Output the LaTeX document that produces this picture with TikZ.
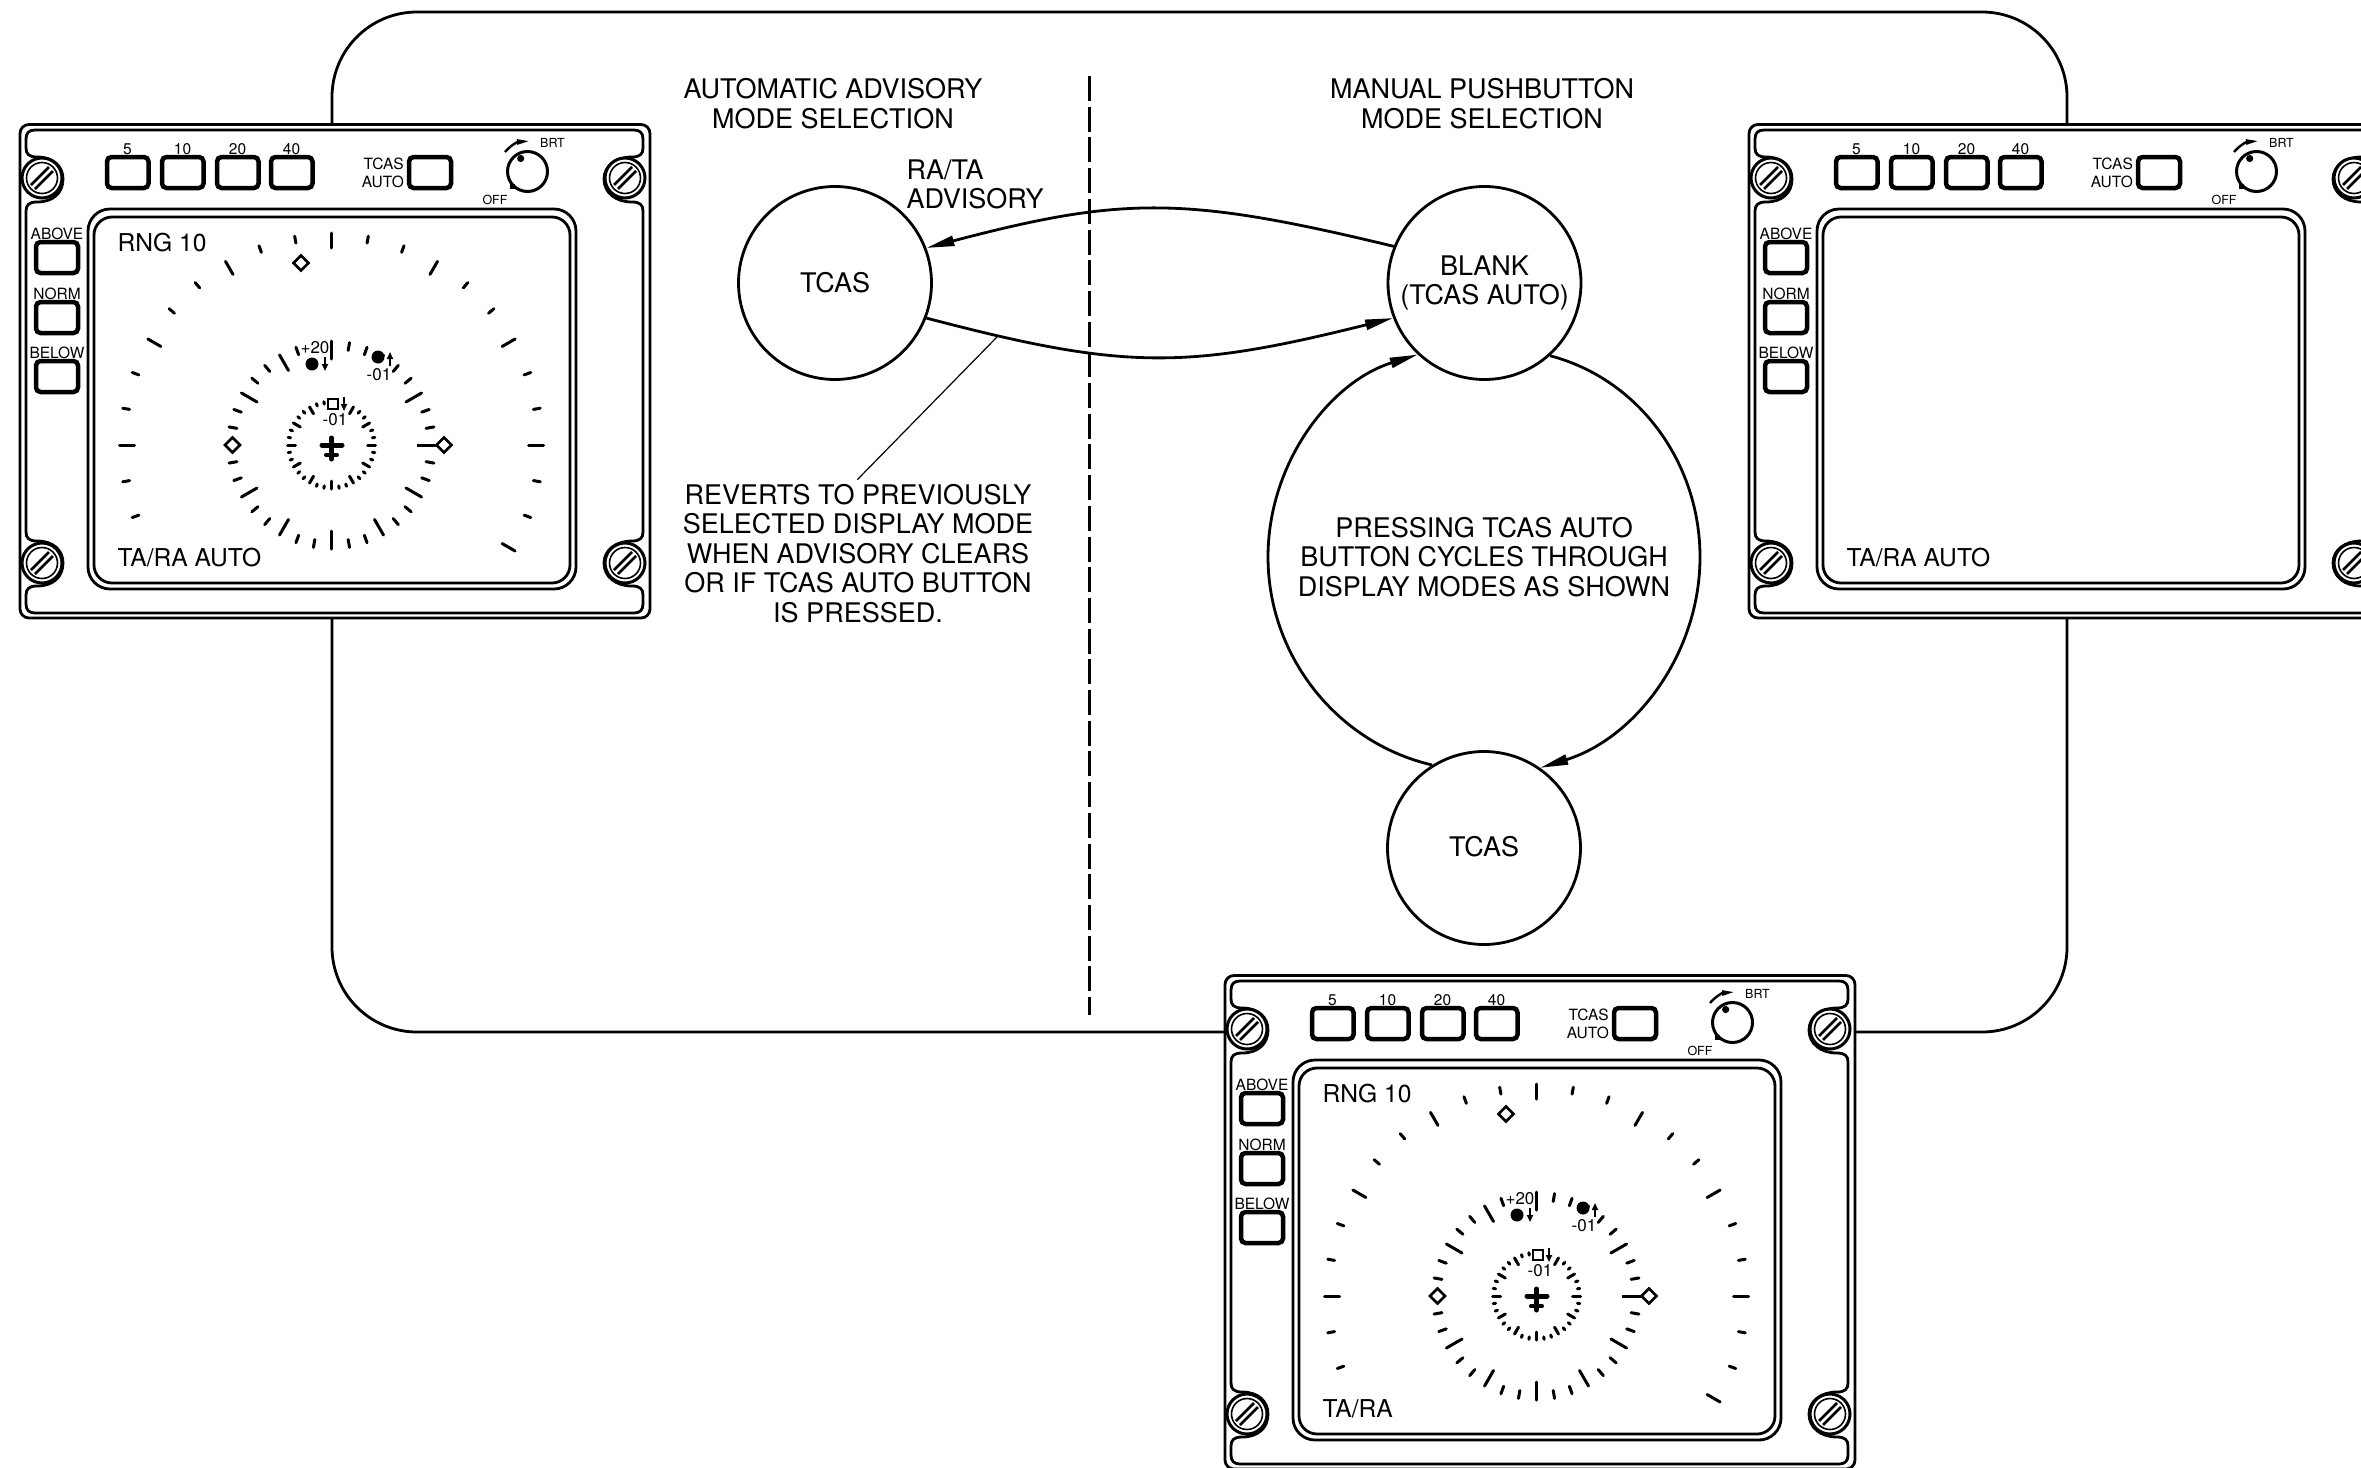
\documentclass[tikz,border=0pt]{standalone}
\usepackage{fontspec}
\setmainfont{TeX Gyre Heros}
\usetikzlibrary{arrows.meta,shapes.geometric}
\newcommand\fbig{\fontsize{27}{29.5}\selectfont}
\newcommand\fscr{\fontsize{24.6}{25}\selectfont}
\newcommand\flab{\fontsize{15.5}{15.5}\selectfont}
\newcommand\fdial{\fontsize{17}{17}\selectfont}
\newcommand\ftiny{\fontsize{12.5}{12.5}\selectfont}
\tikzset{
  x=1pt,y=-1pt,
  ln/.style={line width=2.8pt,line join=round},
  thin ln/.style={line width=1.2pt},
  arr/.style={ln,-{Triangle[length=28pt,width=10pt]}},
  statenode/.style={circle,draw,line width=2.8pt,minimum size=193pt,inner sep=0pt,fill=white,align=center,font=\fbig},
  caption/.style={align=center,inner sep=0pt,font=\fbig},
  scr/.style={anchor=west,inner sep=0pt,font=\fscr},
  lab/.style={inner sep=0pt,font=\flab},
  dial lab/.style={inner sep=0pt,font=\fdial},
  tiny lab/.style={inner sep=0pt,font=\ftiny},
  btn/.style={line width=4.5pt,rounded corners=4.5pt,fill=white},
  tick/.style={line width=3pt,line cap=round},
  dia/.style={line width=2.7pt,line join=miter},
}
\newcommand\tk[3]{\draw[tick] ({331.5+#2*sin(#1)},{445-#2*cos(#1)}) -- ({331.5+#3*sin(#1)},{445-#3*cos(#1)});}
\newcommand\dmnd[2]{\draw[dia,fill=white] (#1-7.5,#2) -- (#1,#2-7.5) -- (#1+7.5,#2) -- (#1,#2+7.5) -- cycle;}
\newcommand\screw[2]{%
  \begin{scope}[shift={(#1,#2)}]
    \fill[white] (0,0) circle[radius=20];
    \draw[line width=3pt] (0,0) circle[radius=20];
    \draw[line width=1.6pt] (0,0) circle[radius=15.5];
    \draw[line width=2.6pt] (-11,7) -- (7,-11);
    \draw[line width=2.6pt] (-7,11) -- (11,-7);
  \end{scope}}
\newcommand\dial[1]{%
  \node[scr] (#1rng) at (117.5,243) {RNG 10};
  \foreach \a in {0,30,...,120,270,300,330} {\tk{\a}{197}{212}}
  \foreach \a in {10,20,40,50,70,80,100,110,250,260,280,290,310,320,340,350} {\tk{\a}{205}{212}}
  \foreach \a in {0,60,120,150,180,210,240,300,330} {\tk{\a}{86}{104}}
  \foreach \a in {10,20,30,40,50,70,80,100,110,130,140,160,170,190,200,220,230,250,260,280,290,310,320,340} {\tk{\a}{96}{104}}
  \foreach \a in {30,60,...,330} {\tk{\a}{36}{44}}
  \foreach \a in {40,50,70,80,100,110,130,140,160,170,190,200,220,230,250,260,280,290,310,320,340,350} {\tk{\a}{41.5}{44}}
  \draw[line width=3pt] (417,445) -- (437,445);
  \dmnd{301}{263}\dmnd{232.5}{445}\dmnd{444}{445}
  \draw[line width=5pt,line cap=round] (331.5,438) -- (331.5,459);
  \draw[line width=5pt,line cap=round] (322,445) -- (342,445);
  \draw[line width=4pt,line cap=round] (326,455) -- (337,455);
  \fill (312,364) circle[radius=6.5];
  \fill (378,357) circle[radius=6.5];
  \draw[line width=1.6pt,-{Triangle[length=7pt,width=6pt]}] (325,357) -- (325,371);
  \draw[line width=1.6pt,-{Triangle[length=7pt,width=6pt]}] (390,366) -- (390,352);
  \draw[line width=1.6pt,-{Triangle[length=7pt,width=6pt]}] (344,397) -- (344,411);
  \draw[line width=2.6pt,fill=white] (328,399) rectangle (338,409);
  \node[dial lab] (#1pa) at (315,348) {+20};
  \node[dial lab] (#1pb) at (379,375) {-01};
  \node[dial lab] (#1pc) at (335,420) {-01};
}
\newcommand\cduPanel[5]{%
  \begin{scope}[shift={(#2,#3)}]
    \draw[ln,fill=white,rounded corners=9pt] (20,124.5) rectangle (650,618);
    \draw[ln] (35,130) -- (634,130) .. controls (640,130) and (643,133) .. (643,139)
      -- (643,148) .. controls (643,154) and (640,157) .. (632,157)
      .. controls (616,157) and (604,166) .. (604,179) .. controls (604,193) and (616,202) .. (632,202)
      .. controls (640,202) and (643,205) .. (643,211)
      -- (643,532) .. controls (643,538) and (640,541) .. (632,541)
      .. controls (616,541) and (604,550) .. (604,563) .. controls (604,577) and (616,586) .. (632,586)
      .. controls (640,586) and (643,589) .. (643,595)
      -- (643,604) .. controls (643,610) and (640,613) .. (634,613)
      -- (35,613) .. controls (29,613) and (26,610) .. (26,604)
      -- (26,595) .. controls (26,589) and (29,586) .. (37,586)
      .. controls (53,586) and (63,577) .. (63,563) .. controls (63,550) and (53,541) .. (37,541)
      .. controls (29,541) and (26,538) .. (26,532)
      -- (26,211) .. controls (26,205) and (29,202) .. (37,202)
      .. controls (53,202) and (63,193) .. (63,179) .. controls (63,166) and (53,157) .. (37,157)
      .. controls (29,157) and (26,154) .. (26,148)
      -- (26,139) .. controls (26,133) and (29,130) .. (35,130) -- cycle;
    \screw{42}{178}\screw{625}{178}\screw{42}{563}\screw{625}{563}
    \draw[ln,rounded corners=22pt] (88,209) rectangle (576,589);
    \draw[ln,rounded corners=18pt] (94,217) rectangle (570,583);
    \foreach \xa/\txt in {107/5,162/10,217/20,271/40} {
      \draw[btn] (\xa,157) rectangle ++(41.5,31);
      \node[lab] (#1top\txt) at (\xa+20.5,149) {\txt};
    }
    \draw[btn] (409,157) rectangle (451,188);
    \node[lab,anchor=east] (#1tc) at (404,164) {TCAS};
    \node[lab,anchor=east] (#1au) at (404,182) {AUTO};
    \foreach \ya/\txt in {242/ABOVE,302/NORM,361/BELOW} {
      \draw[btn] (36,\ya) rectangle ++(42,31);
      \node[lab] (#1\txt) at (57,\ya-8) {\txt};
    }
    \draw[line width=3pt] (527.5,171.5) circle[radius=20];
    \fill (520.7,158.5) circle[radius=3.6];
    \fill (510,184) rectangle (515,189);
    \draw[line width=2.4pt,-{Triangle[length=13pt,width=5pt]}] (505,152) .. controls (510,146) and (517,142) .. (530,141);
    \node[tiny lab] (#1brt) at (552.5,143) {BRT};
    \node[tiny lab] (#1off) at (495,200) {OFF};
    \node[scr] (#1mode) at (117.5,558) {#4};
    #5
  \end{scope}}
\begin{document}
\begin{tikzpicture}
\useasboundingbox (0,0) rectangle (2361,1467);
\fill[white] (0,0) rectangle (2361,1467);
\clip (0,0) rectangle (2361,1467);
% loop frame
\draw[ln,rounded corners=85pt] (332,12) rectangle (2067,1032);
% panels
\cduPanel{pa}{0}{0}{TA/RA AUTO}{\dial{pa}}
\cduPanel{pb}{1729}{0}{TA/RA AUTO}{}
\cduPanel{pc}{1205}{851}{TA/RA}{\dial{pc}}
% states
\node[statenode] (tcasa) at (835,283) {TCAS};
\node[statenode] (blank) at (1484.5,283) {\raisebox{-1.5pt}{BLANK}\\\raisebox{-1.5pt}{(TCAS AUTO)}};
\node[statenode] (tcasb) at (1484,848) {\raisebox{3pt}{TCAS}};
\coordinate (bige) at (1700,557);
\coordinate (bigw) at (1268,557);
\coordinate (lead) at (997,337);
% connectors
\draw[arr] (blank.158.4) .. controls (1185,196) and (1124,196) .. (tcasa.21);
\draw[arr] (tcasa.-21) .. controls (1124,370) and (1185,370) .. (blank.201);
\draw[ln] (blank.-48) .. controls (1639,379) and (1700,463) .. (bige);
\draw[arr] (bige) .. controls (1700,653) and (1636,738) .. (tcasb.55);
\draw[ln] (tcasb.122) .. controls (1337,743) and (1268,656) .. (bigw);
\draw[arr] (bigw) .. controls (1268,463) and (1330,382) .. (blank.227);
% divider
\coordinate (dta) at (1089,76);
\coordinate (dtb) at (1089,1015);
\draw[line width=3pt,dash pattern=on 25pt off 5.7pt] (dta) -- (dtb);
% captions
\node[caption] (capa) at (833,103.5) {AUTOMATIC ADVISORY\\MODE SELECTION};
\node[caption] (capb) at (1482,103.5) {MANUAL PUSHBUTTON\\MODE SELECTION};
\node[caption,align=left,anchor=west] (ra) at (906.5,184.5) {RA/TA\\ADVISORY};
\node[caption] (note) at (858,553.5) {REVERTS TO PREVIOUSLY\\SELECTED DISPLAY MODE\\WHEN ADVISORY CLEARS\\OR IF TCAS AUTO BUTTON\\IS PRESSED.};
\node[caption] (press) at (1484,557) {PRESSING TCAS AUTO\\BUTTON CYCLES THROUGH\\DISPLAY MODES AS SHOWN};
\draw[thin ln,shorten >=-1pt] (lead) -- ([yshift=5pt]note.north);
\end{tikzpicture}
\end{document}
